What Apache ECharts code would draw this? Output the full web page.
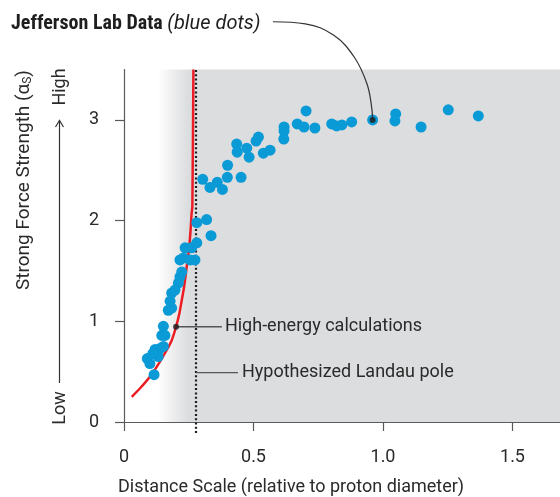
<!DOCTYPE html>
<html>
<head>
<meta charset="utf-8">
<script src="https://cdn.jsdelivr.net/npm/echarts@6/dist/echarts.min.js"></script>
<style>
html, body { margin: 0; padding: 0; background: #fff; }
#chart { width: 560px; height: 497px; }
</style>
</head>
<body>
<div id="chart"></div>
<script>
// Jefferson Lab measurements (distance scale, strong force strength)
var jlabX = [0.116, 0.090, 0.100, 0.120, 0.139, 0.152, 0.132, 0.111, 0.152, 0.146, 0.158,
    0.171, 0.184, 0.178, 0.184, 0.197, 0.210, 0.216, 0.223, 0.216, 0.229, 0.236, 0.261,
    0.274, 0.255, 0.281, 0.281, 0.319, 0.336, 0.304, 0.332, 0.360, 0.380, 0.400, 0.399,
    0.452, 0.435, 0.437, 0.474, 0.483, 0.510, 0.519, 0.538, 0.564, 0.618, 0.618, 0.617,
    0.669, 0.703, 0.695, 0.737, 0.802, 0.821, 0.841, 0.879, 0.960, 1.049, 1.046, 1.147,
    1.252, 1.368];
var jlabY = [0.47, 0.63, 0.58, 0.72, 0.73, 0.75, 0.65, 0.68, 0.95, 0.86, 0.86,
    1.11, 1.13, 1.20, 1.28, 1.31, 1.38, 1.44, 1.49, 1.61, 1.63, 1.73, 1.73,
    1.61, 1.61, 1.78, 1.98, 2.01, 1.85, 2.41, 2.33, 2.38, 2.31, 2.55, 2.43,
    2.43, 2.76, 2.68, 2.72, 2.63, 2.79, 2.83, 2.67, 2.70, 2.93, 2.89, 2.81,
    2.96, 3.09, 2.93, 2.92, 2.96, 2.94, 2.95, 2.98, 3.00, 3.06, 2.99, 2.93,
    3.10, 3.04];
var jlabMarked = 55; // the dot the title points at

// high-energy calculations (red curve)
var calcX = [0.030, 0.062, 0.100, 0.139, 0.165, 0.184, 0.201, 0.214, 0.223, 0.232, 0.242, 0.252, 0.258, 0.261, 0.264, 0.268];
var calcY = [0.25, 0.335, 0.45, 0.60, 0.715, 0.81, 0.946, 1.08, 1.21, 1.34, 1.54, 1.74, 1.94, 2.07, 2.14, 3.5];
var calcMarked = 6;

// hypothesized Landau pole
var poleX = 0.278;

// axes
var xTicks = [0, 0.5, 1.0, 1.5];
var yTicks = [0, 1, 2, 3];
var xMax = 1.6834;
var yMax = 3.5;

// shaded region (gradient start, solid start)
var shadeFrom = 0.131;
var shadeSolid = 0.247;

var FONT = 'Roboto, "Liberation Sans", sans-serif';
var NARROW = '"Liberation Sans Narrow", "Roboto Condensed", "DejaVu Sans Condensed", sans-serif';
var TEXT = '#2a2a2a';
var AXIS = '#5a5a5a';
var GRAY = '#dcdddf';
var BLUE = '#0a9ad6';
var RED = '#ec1c24';

var chart = echarts.init(document.getElementById('chart'));

var jlab = [];
for (var i = 0; i < jlabX.length && i < jlabY.length; i++) {
    jlab.push([jlabX[i], jlabY[i]]);
}
var calc = [];
for (var j = 0; j < calcX.length; j++) {
    calc.push([calcX[j], calcY[j]]);
}
var calcPt = calc[calcMarked];
var jlabPt = jlab[jlabMarked];

// leader from the title down to the marked dot
var titleCurve = [[0.575, 3.975], [0.700, 3.955], [0.810, 3.84], [0.890, 3.62], [0.938, 3.36], [0.955, 3.15], jlabPt];

var option = {
    animation: false,
    backgroundColor: '#fff',
    title: {
        left: 6,
        top: 9,
        text: '{b|Jefferson Lab Data} {i|(blue dots)}',
        textStyle: {
            fontFamily: NARROW,
            fontSize: 20,
            rich: {
                b: {fontFamily: NARROW, fontSize: 20, fontWeight: 'bold', color: '#1e1e1e'},
                i: {fontFamily: FONT, fontSize: 20, fontStyle: 'italic', fontWeight: 'normal', color: '#1e1e1e'}
            }
        }
    },
    grid: {left: 124, right: 0, top: 69.6, bottom: 75, containLabel: false, outerBoundsMode: 'none'},
    xAxis: {
        type: 'value',
        min: 0,
        max: xMax,
        interval: 0.5,
        offset: 14,
        splitLine: {show: false},
        axisLine: {show: true, lineStyle: {color: AXIS, width: 1.2}},
        axisTick: {show: true, length: 9, customValues: xTicks, lineStyle: {color: AXIS, width: 1.2}},
        axisLabel: {
            customValues: xTicks,
            margin: 12,
            fontFamily: FONT, fontSize: 18, color: TEXT,
            formatter: function (v) { return v === 0 ? '0' : v.toFixed(1); }
        }
    },
    yAxis: {
        type: 'value',
        min: 0,
        max: yMax,
        interval: 1,
        offset: 13,
        splitLine: {show: false},
        axisLine: {show: true, lineStyle: {color: AXIS, width: 1.2}},
        axisTick: {show: true, length: 9, customValues: yTicks, lineStyle: {color: AXIS, width: 1.2}},
        axisLabel: {customValues: yTicks, margin: 12, fontFamily: FONT, fontSize: 18, color: TEXT}
    },
    graphic: [
        {type: 'text', x: 24, y: 180, rotation: Math.PI / 2,
            style: {text: 'Strong Force Strength (α{s|S})', align: 'center', verticalAlign: 'middle',
                fontFamily: FONT, fontSize: 19, fill: TEXT,
                rich: {s: {fontFamily: FONT, fontSize: 12, fill: TEXT, verticalAlign: 'bottom', padding: [8, 0, 0, 0]}}}},
        {type: 'text', x: 60, y: 408, rotation: Math.PI / 2,
            style: {text: 'Low', align: 'center', verticalAlign: 'middle', fontFamily: FONT, fontSize: 18, fill: TEXT}},
        {type: 'text', x: 60, y: 87, rotation: Math.PI / 2,
            style: {text: 'High', align: 'center', verticalAlign: 'middle', fontFamily: FONT, fontSize: 18, fill: TEXT}},
        {type: 'line', shape: {x1: 59.5, y1: 383, x2: 59.5, y2: 121}, style: {stroke: '#333', lineWidth: 1.2}},
        {type: 'polyline', shape: {points: [[55.5, 127], [59.5, 120.5], [63.5, 127]]}, style: {stroke: '#333', lineWidth: 1.2, fill: null}},
        {type: 'text', x: 118, y: 487,
            style: {text: 'Distance Scale (relative to proton diameter)', align: 'left', verticalAlign: 'middle',
                fontFamily: FONT, fontSize: 18, fill: TEXT}}
    ],
    series: [
        {
            name: 'shade',
            type: 'line',
            data: [],
            silent: true,
            markArea: {
                silent: true,
                data: [
                    [{xAxis: shadeFrom, yAxis: 0, itemStyle: {color: new echarts.graphic.LinearGradient(0, 0, 1, 0, [
                        {offset: 0, color: '#ffffff'}, {offset: 1, color: GRAY}])}},
                        {xAxis: shadeSolid, yAxis: yMax}],
                    [{xAxis: shadeSolid, yAxis: 0, itemStyle: {color: GRAY}}, {xAxis: xMax, yAxis: yMax}]
                ]
            }
        },
        {
            name: 'High-energy calculations',
            type: 'line',
            data: calc,
            showSymbol: false,
            smooth: 0.2,
            z: 3,
            lineStyle: {color: RED, width: 2.5}
        },
        {
            name: 'Landau pole',
            type: 'line',
            data: [[poleX, -0.11], [poleX, yMax]],
            showSymbol: false,
            clip: false,
            z: 3,
            lineStyle: {color: '#1e1e1e', width: 2.2, type: [2, 2.3]}
        },
        {
            name: 'calc leader',
            type: 'line',
            data: [calcPt, [0.378, calcPt[1]]],
            showSymbol: false,
            z: 4,
            lineStyle: {color: '#555', width: 1.3},
            endLabel: {show: true, formatter: 'High-energy calculations', distance: 3,
                fontFamily: FONT, fontSize: 18, color: TEXT}
        },
        {
            name: 'pole leader',
            type: 'line',
            data: [[poleX, 0.49], [0.440, 0.49]],
            showSymbol: false,
            z: 4,
            lineStyle: {color: '#555', width: 1.3},
            endLabel: {show: true, formatter: 'Hypothesized Landau pole', distance: 4,
                fontFamily: FONT, fontSize: 18, color: TEXT}
        },
        {
            name: 'Jefferson Lab Data',
            type: 'scatter',
            data: jlab,
            symbolSize: 11,
            z: 5,
            itemStyle: {color: BLUE, opacity: 1}
        },
        {
            name: 'title leader',
            type: 'line',
            data: titleCurve,
            smooth: 0.4,
            showSymbol: false,
            clip: false,
            z: 6,
            lineStyle: {color: '#333', width: 1.2}
        },
        {
            name: 'marks',
            type: 'scatter',
            data: [calcPt, jlabPt],
            symbolSize: 6,
            z: 7,
            itemStyle: {color: '#1e1e1e'}
        }
    ]
};
chart.setOption(option);
</script>
</body>
</html>
